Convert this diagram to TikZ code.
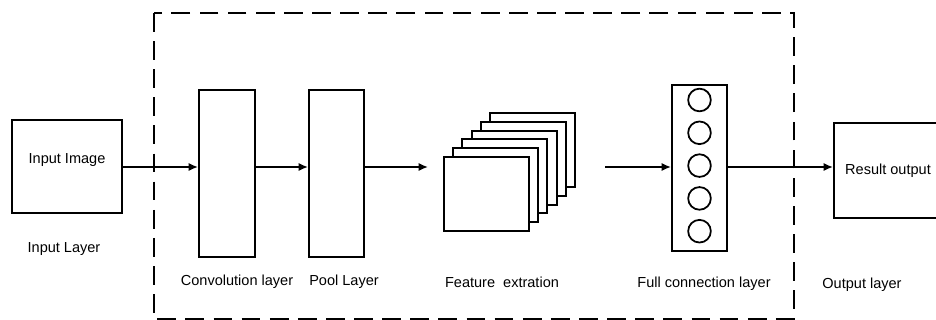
\documentclass[tikz,border=0pt]{standalone}
\usepackage{fontspec}
\setmainfont{Liberation Sans}
\usepackage{tikz}
\usetikzlibrary{arrows.meta}
\usetikzlibrary{calc}
\usetikzlibrary{positioning}

\begin{document}
\begin{tikzpicture}
	[
	x=0.03cm, y=-0.03cm,
	> = {Latex[length=8pt,width=7pt]},
	every node/.style = {font=\fontsize{12.4}{15}\selectfont},
	box/.style = {draw,line width=1.7pt,fill=white,inner sep=0pt},
	layer/.style = {box,minimum width=2.55cm,minimum height=2.22cm},
	neuron/.style = {draw,line width=1.5pt,circle,inner sep=0pt,minimum size=0.68cm},
	link/.style = {->,line width=1.5pt}
	]
	\useasboundingbox (0,0) rectangle (936,320);

	% dashed frame round the hidden layers
	\draw[line width=1.6pt, dash pattern=on 16pt off 8pt] (154,13) rectangle (794,319);

	% boxes
	\node[box, minimum width=3.3cm, minimum height=2.79cm] (inimg) at (67,166.5) {};
	\node (inimgtext) at (67,160) {Input Image};
	\node[box, minimum width=1.68cm, minimum height=5.01cm] (conv) at (227,173.5) {};
	\node[box, minimum width=1.65cm, minimum height=5.01cm] (pool) at (336.5,173.5) {};
	\foreach \i in {5,4,...,0}
		\node[layer] (feat\i) at (486.5+\i*9.2, 194-\i*8.8) {};
	\node[box, minimum width=1.65cm, minimum height=4.98cm] (fc) at (699.5,168) {};
	\foreach \k in {0,...,4}
		\node[neuron] (n\k) at (699.5, 100+\k*32.8) {};
	\node[box, minimum width=3.24cm, minimum height=2.85cm] (result) at (888,170.5) {Result output};

	% connectors
	\coordinate (featin) at (428,167);
	\coordinate (featout) at (605,167);
	\draw[link] (inimg.east |- 0,167) -- (conv.west |- 0,167);
	\draw[link] (conv.east |- 0,167) -- (pool.west |- 0,167);
	\draw[link] (pool.east |- featin) -- (featin);
	\draw[link] (featout) -- (fc.west |- featout);
	\draw[link] (fc.east |- featout) -- (result.west |- featout);

	% captions
	\node (inlayer) at (64,249) {Input Layer};
	\node (convlabel) at (237,282) {Convolution layer};
	\node (poollabel) at (344,282) {Pool Layer};
	\node (featlabel) at (502,282) {Feature\ \ extration};
	\node (fclabel) at (704,284) {Full connection layer};
	\node (outlayer) at (862,285) {Output layer};
\end{tikzpicture}
\end{document}
